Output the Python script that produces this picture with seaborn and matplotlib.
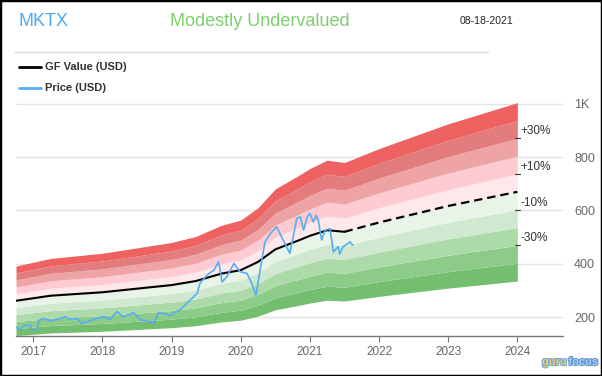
import matplotlib
matplotlib.use("Agg")
import matplotlib.pyplot as plt
import seaborn as sns
import numpy as np
from matplotlib import patheffects as pe
from matplotlib.patches import Rectangle

# GF value (decimal year, USD)
gf_years = [2016.75, 2017.25, 2018.0, 2019.0, 2019.35, 2019.72, 2020.0, 2020.25,
            2020.5, 2020.85, 2021.0, 2021.25, 2021.5, 2022.0, 2023.0, 2024.0]
gf_values = [261, 280, 293, 320, 335, 363, 376, 407,
             454, 489, 505, 526, 520, 555, 617, 670]
gf_last_actual = 2021.5

# price (decimal year, USD)
price_years = [2016.75, 2016.81, 2016.88, 2016.96, 2016.98, 2017.05, 2017.09, 2017.15,
               2017.25, 2017.34, 2017.46, 2017.53, 2017.63, 2017.70, 2017.78, 2017.92,
               2018.02, 2018.11, 2018.21, 2018.30, 2018.45, 2018.55, 2018.64, 2018.74,
               2018.81, 2018.93, 2018.98, 2019.03, 2019.12, 2019.17, 2019.27, 2019.37,
               2019.41, 2019.51, 2019.61, 2019.68, 2019.73, 2019.80, 2019.90, 2019.99,
               2020.09, 2020.16, 2020.22, 2020.28, 2020.35, 2020.43, 2020.52, 2020.59,
               2020.71, 2020.81, 2020.86, 2020.91, 2020.96, 2021.00, 2021.05, 2021.09,
               2021.12, 2021.17, 2021.22, 2021.29, 2021.34, 2021.41, 2021.43, 2021.48,
               2021.58, 2021.62]
price_values = [161, 154, 170, 168, 151, 154, 189, 194,
                186, 191, 201, 191, 195, 176, 182, 195,
                201, 191, 220, 201, 216, 189, 186, 176,
                216, 211, 204, 216, 226, 239, 264, 289,
                326, 357, 376, 407, 332, 351, 401, 370,
                364, 326, 282, 376, 482, 514, 539, 501,
                439, 570, 576, 526, 576, 589, 557, 582,
                564, 489, 526, 532, 445, 464, 436, 464,
                482, 470]

band_levels = [0.5, 0.6, 0.7, 0.8, 0.9, 1.0, 1.1, 1.2, 1.3, 1.4, 1.5]
band_colors = ["#74bf6f", "#8dcc88", "#acdaa9", "#cfe8cf", "#e9f4e8",
               "#fee8eb", "#fdcbd1", "#eea4a4", "#e37d7d", "#ef6262"]
band_labels = {1.3: "+30%", 1.1: "+10%", 0.9: "-10%", 0.7: "-30%"}

year_ticks = list(range(2017, 2025))
value_ticks = [200, 400, 600, 800, 1000]
value_tick_labels = ["200", "400", "600", "800", "1K"]

sns.set_style("white")
plt.rcParams['font.family'] = ['Liberation Sans', 'DejaVu Sans']

fig = plt.figure(figsize=(6.02, 3.76), dpi=100)
ax = fig.add_axes([16 / 602, 1 - 336 / 376, (563 - 16) / 602, (336 - 101.3) / 376])

gx = np.array(gf_years)
gv = np.array(gf_values)
for i, col in enumerate(band_colors):
    ax.fill_between(gx, gv * band_levels[i], gv * band_levels[i + 1],
                    color=col, linewidth=0, zorder=1)

for v in value_ticks:
    ax.axhline(v, color="#e3e3e3", linewidth=1, zorder=0.5)

solid = gx <= gf_last_actual + 1e-9
dashed = gx >= gf_last_actual - 1e-9
sns.lineplot(x=gx[solid], y=gv[solid], ax=ax, color="black", linewidth=1.5, zorder=4)
sns.lineplot(x=gx[dashed], y=gv[dashed], ax=ax, color="black", linewidth=1.6,
             linestyle=(0, (3.8, 2.2)), zorder=4)
sns.lineplot(x=price_years, y=price_values, ax=ax, color="#5aacf2", linewidth=1.2, zorder=5)

for lvl, txt in band_labels.items():
    v = gf_values[-1] * lvl
    ax.plot([2023.97, 2024.04], [v, v], color="#333333", linewidth=0.8,
            clip_on=False, zorder=6)
    ax.annotate(txt, (2024.05, v), xytext=(0, 5), textcoords="offset points",
                ha="left", va="center", fontsize=8.5, color="#333333")

ax.set_xlim(2016.75, 2024.66)
ax.set_ylim(128.75, 1010)
ax.set_xticks(year_ticks)
ax.set_xticklabels([str(y) for y in year_ticks], fontsize=8.5, color="#666666")
ax.yaxis.tick_right()
ax.set_yticks(value_ticks)
ax.set_yticklabels(value_tick_labels, fontsize=9, color="#666666")
ax.tick_params(axis="y", length=0, pad=8)
ax.tick_params(axis="x", length=4, color="#777777", direction="out", pad=3, bottom=True)
for s in ["top", "left", "right"]:
    ax.spines[s].set_visible(False)
ax.spines["bottom"].set_color("#777777")
ax.spines["bottom"].set_linewidth(1)
ax.set_xlabel("")
ax.set_ylabel("")

# header
fig.text(18 / 602, 1 - 21 / 376, "MKTX", fontsize=13, color="#4da8f5", va="center", ha="left")
fig.text(260 / 602, 1 - 21 / 376, "Modestly Undervalued", fontsize=13, color="#7dcf6b",
         va="center", ha="center")
fig.text(513 / 602, 1 - 21 / 376, "08-18-2021", fontsize=7.5, color="#222222",
         va="center", ha="right")
fig.add_artist(plt.Line2D([14 / 602, 488 / 602], [1 - 52 / 376, 1 - 52 / 376],
                          color="#dddddd", linewidth=1))

# legend
for yy, col, txt in [(67, "black", "GF Value (USD)"), (88, "#5aacf2", "Price (USD)")]:
    fig.add_artist(plt.Line2D([19 / 602, 41 / 602], [1 - yy / 376, 1 - yy / 376],
                              color=col, linewidth=2))
    fig.text(45 / 602, 1 - yy / 376, txt, fontsize=8, fontweight="bold",
             color="#333333", va="center", ha="left")

# logo
t1 = fig.text(542 / 602, 1 - 362 / 376, "guru", fontsize=8, fontweight="bold",
              color="#f7cf55", va="center", ha="left")
t1.set_path_effects([pe.withStroke(linewidth=1.5, foreground="#6ea6dc")])
t2 = ax.annotate("focus", xy=(1, 0.5), xycoords=t1, xytext=(1, 0),
                 textcoords="offset points", fontsize=8, fontweight="bold",
                 color="#a9d3f5", va="center", ha="left", annotation_clip=False)
t2.set_path_effects([pe.withStroke(linewidth=1.5, foreground="#5b8fcf")])

fig.add_artist(Rectangle((0, 0), 1, 1, transform=fig.transFigure, fill=False,
                         edgecolor="black", linewidth=2.5))

fig.savefig("out.png", dpi=100)
